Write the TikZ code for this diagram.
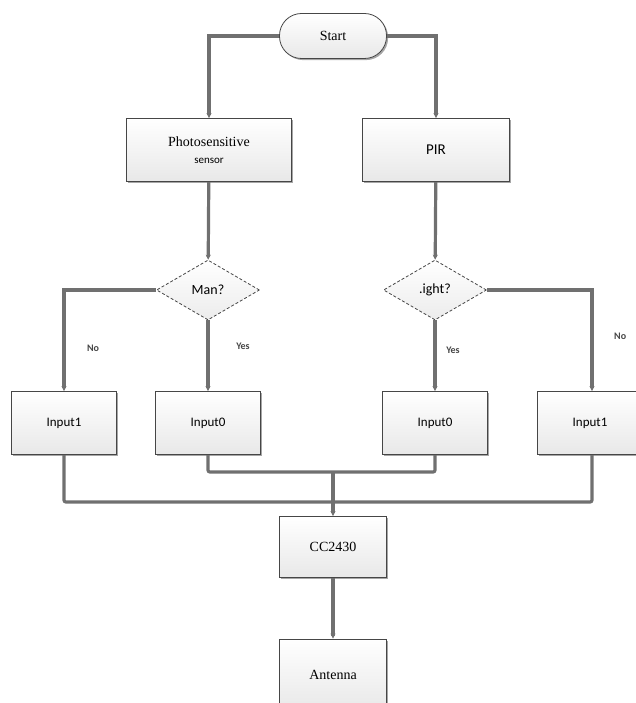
\documentclass[tikz,border=0pt]{standalone}
\usepackage{fontspec}
\setmainfont{Liberation Serif}
\newfontfamily\calib{Carlito}
\usetikzlibrary{positioning, arrows.meta, shapes.geometric, shadows}

\definecolor{wire}{RGB}{112,112,112}
\definecolor{rim}{RGB}{70,70,70}

\tikzset{
    box/.style={draw=rim, line width=0.8pt, top color=white, bottom color=gray!18,
        drop shadow={shadow xshift=1.6pt, shadow yshift=-1.6pt, fill=gray!70, opacity=1},
        minimum width=105pt, minimum height=63pt, inner sep=2pt, align=center},
    term/.style={box, rounded corners=22pt, minimum height=45pt, minimum width=107pt},
    ask/.style={diamond, draw=rim, line width=0.8pt, densely dashed, top color=white, bottom color=gray!15,
        aspect=1.7, minimum width=103pt, minimum height=60pt, inner sep=0pt, font=\calib\fontsize{14}{16}\selectfont},
    wirel/.style={draw=wire, line width=3.2pt},
    lbl/.style={font=\calib\bfseries\fontsize{10}{11}\selectfont, text=rim, inner sep=1pt}
}

\begin{document}
\begin{tikzpicture}[x=1pt, y=-1pt, >={Stealth[length=5pt,width=5pt]}, node distance=133pt, on grid, font=\fontsize{14}{16}\selectfont]
    \useasboundingbox (0,0) rectangle (636,703);

    \node[term] (start) at (333,36) {Start};
    \node[box, minimum width=165pt] (photo) at (209,150) {Photosensitive \\[1pt] {\calib\fontsize{11}{12}\selectfont sensor}};
    \node[box, minimum width=147pt, font=\calib\fontsize{15}{16}\selectfont] (pir) at (436,150) {PIR};

    \node[ask] (man) at (208,290) {Man?};
    \node[ask] (light) at (435,290) {.ight?};

    \node[box, font=\calib\fontsize{13}{15}\selectfont] (in1l) [below=133pt of man, xshift=-144pt] {Input1};
    \node[box, font=\calib\fontsize{13}{15}\selectfont] (in0l) [below=of man] {Input0};
    \node[box, font=\calib\fontsize{13}{15}\selectfont] (in0r) [below=of light] {Input0};
    \node[box, font=\calib\fontsize{13}{15}\selectfont] (in1r) at (590,423) {Input1};

    \node[box, minimum width=107pt, minimum height=61pt] (cc) at (333,547) {CC2430};
    \node[box, minimum width=107pt, minimum height=72pt] (ant) at (333,675) {Antenna};

    \coordinate (busI) at (333,472);
    \coordinate (busO) at (333,502);
    \coordinate (tapR) at (592,290);

    % start to the two sensors
    \draw[wirel, ->] (start.west) -| (photo.north);
    \draw[wirel, ->] (start.east) -| (pir.north);
    \draw[wirel, ->] (photo) -- (man);
    \draw[wirel, ->] (pir) -- (light);

    % decisions
    \draw[wirel, ->] (man.west) -| (in1l.north);
    \draw[wirel, ->] (man.south) -- (in0l.north);
    \draw[wirel, ->] (light.south) -- (in0r.north);
    \draw[wirel, ->] (light.east) -- (tapR) -- (tapR |- in1r.north);
    \node[lbl] (noL) at (93,348) {No};
    \node[lbl] (yesL) at (243,346) {Yes};
    \node[lbl] (yesR) at (453,350) {Yes};
    \node[lbl, anchor=west] (noR) at (613,336) {No};

    % merge into CC2430
    \draw[wirel, rounded corners=2pt] (in1l.south) |- (busO) -| (tapR |- in1r.south);
    \draw[wirel, rounded corners=2pt] (in0l.south) |- (busI) -| (in0r.south);
    \draw[wirel, ->] (busI) -- (cc.north);
    \draw[wirel, ->] (cc) -- (ant);
\end{tikzpicture}
\end{document}
